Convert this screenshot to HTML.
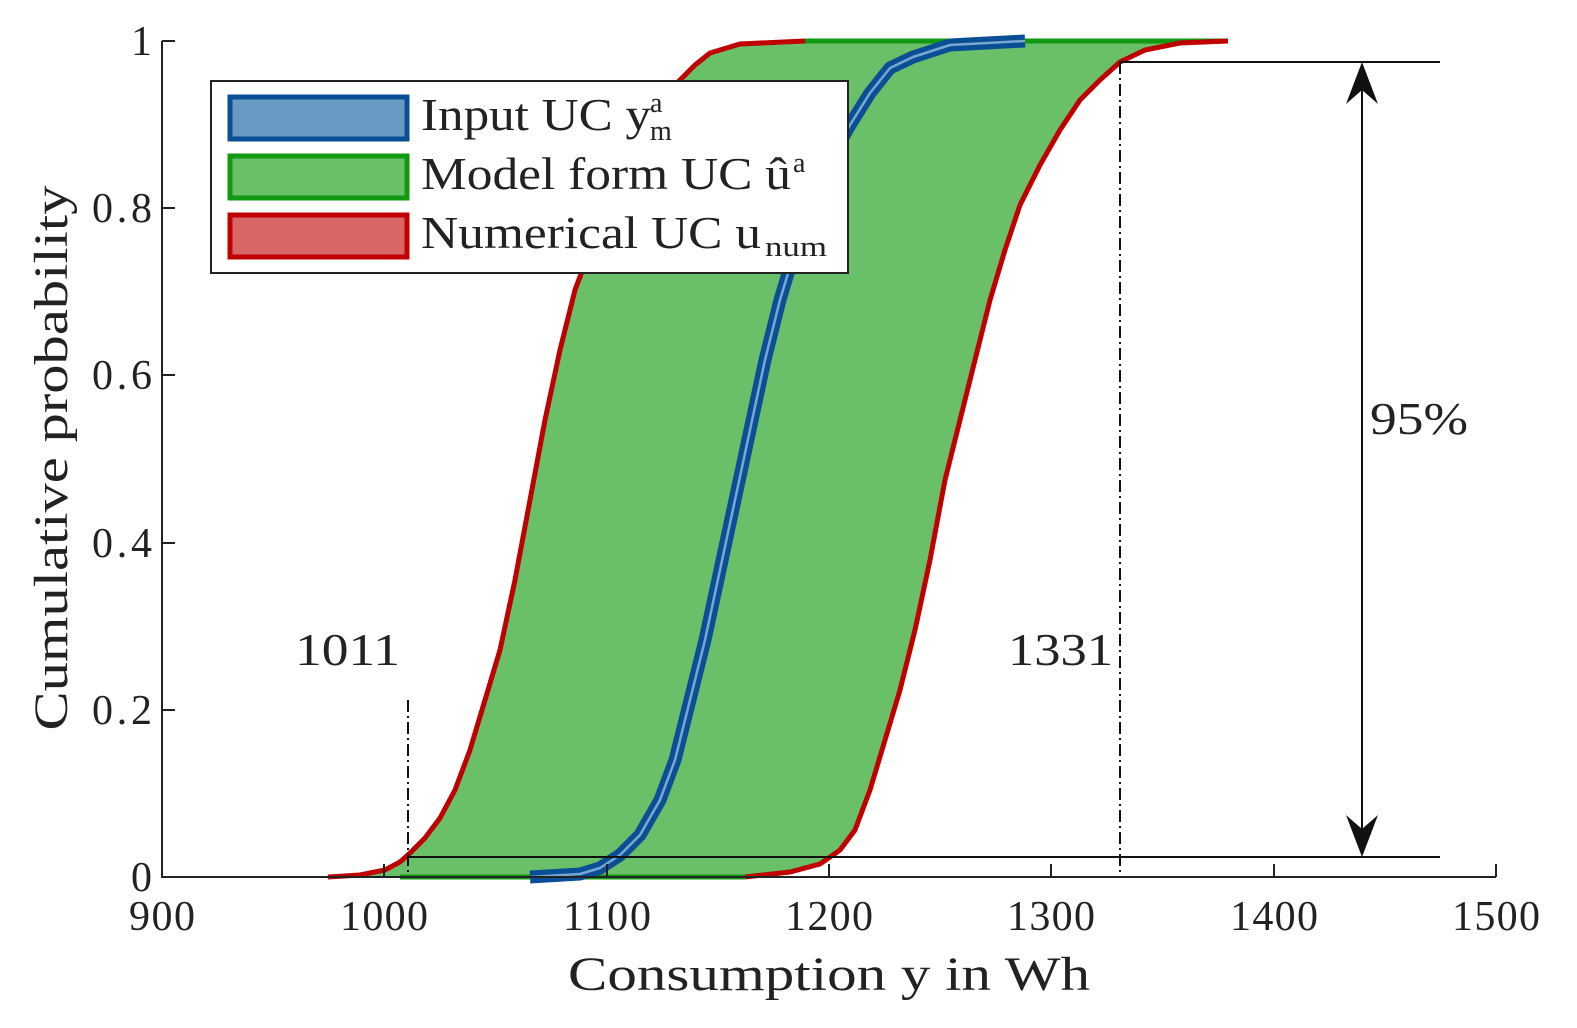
<!DOCTYPE html>
<html><head><style>
html,body{margin:0;padding:0;background:#fff}
svg{display:block}
text{font-family:"Liberation Serif",serif;fill:#222}
</style></head><body>
<svg width="1577" height="1028" viewBox="0 0 1577 1028" xmlns="http://www.w3.org/2000/svg">
<path d="M328,877 L360,875 L385,870 L400,862 L410,853 L425,838 L440,818 L455,790 L470,750 L485,700 L500,650 L515,580 L530,500 L545,420 L560,350 L575,290 L590,250 L605,205 L625,160 L645,120 L665,95 L680,80 L695,65 L710,53 L740,44 L805,41 L1228,41 L1180,43 L1145,50 L1120,62 L1100,80 L1080,100 L1060,130 L1040,165 L1020,205 L1005,250 L990,300 L975,360 L960,420 L945,480 L930,560 L915,630 L900,690 L885,740 L870,790 L855,830 L840,850 L820,864 L790,872 L745,877 Z" fill="#6abf69"/>
<line x1="805" y1="41" x2="1228" y2="41" stroke="#119911" stroke-width="5"/>
<line x1="400" y1="877" x2="745" y2="877" stroke="#119911" stroke-width="5"/>
<path d="M530,877 L580,874 L600,868 L620,855 L640,835 L660,800 L675,760 L690,700 L705,640 L720,570 L735,500 L750,430 L765,360 L780,300 L795,250 L810,200 L830,160 L850,125 L870,93 L890,68 L913,57 L950,45 L1025,41" fill="none" stroke="#0a4f96" stroke-width="13" stroke-linejoin="round"/>
<path d="M530,877 L580,874 L600,868 L620,855 L640,835 L660,800 L675,760 L690,700 L705,640 L720,570 L735,500 L750,430 L765,360 L780,300 L795,250 L810,200 L830,160 L850,125 L870,93 L890,68 L913,57 L950,45 L1025,41" fill="none" stroke="#7aa7d2" stroke-width="2.5" stroke-linejoin="round"/>
<path d="M328,877 L360,875 L385,870 L400,862 L410,853 L425,838 L440,818 L455,790 L470,750 L485,700 L500,650 L515,580 L530,500 L545,420 L560,350 L575,290 L590,250 L605,205 L625,160 L645,120 L665,95 L680,80 L695,65 L710,53 L740,44 L805,41" fill="none" stroke="#c00000" stroke-width="5"/>
<path d="M745,877 L790,872 L820,864 L840,850 L855,830 L870,790 L885,740 L900,690 L915,630 L930,560 L945,480 L960,420 L975,360 L990,300 L1005,250 L1020,205 L1040,165 L1060,130 L1080,100 L1100,80 L1120,62 L1145,50 L1180,43 L1228,41" fill="none" stroke="#c00000" stroke-width="5"/>
<line x1="1120" y1="62" x2="1440" y2="62" stroke="#111" stroke-width="2"/>
<line x1="408" y1="857" x2="1440" y2="857" stroke="#111" stroke-width="2"/>
<line x1="408" y1="700" x2="408" y2="877" stroke="#111" stroke-width="2" stroke-dasharray="12,4,2,4"/>
<line x1="1120" y1="62" x2="1120" y2="877" stroke="#111" stroke-width="2" stroke-dasharray="12,4,2,4"/>
<line x1="1362" y1="66" x2="1362" y2="853" stroke="#111" stroke-width="2"/>
<path d="M1362,62 L1346,104 L1362,90 L1378,104 Z" fill="#111"/>
<path d="M1362,857 L1346,815 L1362,829 L1378,815 Z" fill="#111"/>
<text x="295" y="665" font-size="46" textLength="105" lengthAdjust="spacingAndGlyphs">1011</text>
<text x="1008" y="665" font-size="46" textLength="105" lengthAdjust="spacingAndGlyphs">1331</text>
<text x="1370" y="434" font-size="46" textLength="98" lengthAdjust="spacingAndGlyphs">95%</text>
<line x1="162" y1="41" x2="162" y2="878" stroke="#222" stroke-width="2"/>
<line x1="161" y1="877" x2="1496" y2="877" stroke="#222" stroke-width="2"/>
<g stroke="#222" stroke-width="2">
<line x1="384" y1="877" x2="384" y2="864"/><line x1="607" y1="877" x2="607" y2="864"/><line x1="829" y1="877" x2="829" y2="864"/><line x1="1051" y1="877" x2="1051" y2="864"/><line x1="1274" y1="877" x2="1274" y2="864"/><line x1="1496" y1="877" x2="1496" y2="864"/>
<line x1="162" y1="710" x2="175" y2="710"/><line x1="162" y1="543" x2="175" y2="543"/><line x1="162" y1="375" x2="175" y2="375"/><line x1="162" y1="208" x2="175" y2="208"/><line x1="162" y1="41" x2="175" y2="41"/>
</g>
<g font-size="42" text-anchor="middle" lengthAdjust="spacingAndGlyphs">
<text x="162" y="930" textLength="66">900</text><text x="384" y="930" textLength="88">1000</text><text x="607" y="930" textLength="88">1100</text><text x="829" y="930" textLength="88">1200</text><text x="1051" y="930" textLength="88">1300</text><text x="1274" y="930" textLength="88">1400</text><text x="1496" y="930" textLength="88">1500</text>
</g>
<g font-size="42" text-anchor="end">
<text x="152" y="891">0</text><text x="152" y="724" textLength="60">0.2</text><text x="152" y="557" textLength="60">0.4</text><text x="152" y="389" textLength="60">0.6</text><text x="152" y="222" textLength="60">0.8</text><text x="152" y="55">1</text>
</g>
<text x="829" y="990" font-size="48" text-anchor="middle" textLength="522" lengthAdjust="spacingAndGlyphs">Consumption y in Wh</text>
<text transform="translate(67,458) rotate(-90)" font-size="48" text-anchor="middle" textLength="545" lengthAdjust="spacingAndGlyphs">Cumulative probability</text>
<rect x="211" y="81" width="637" height="192" fill="#fff" stroke="#222" stroke-width="2"/>
<rect x="230" y="97" width="177" height="42" fill="#6899c2" stroke="#0a4f96" stroke-width="5"/>
<rect x="230" y="156" width="177" height="42" fill="#6abf69" stroke="#119911" stroke-width="5"/>
<rect x="230" y="215" width="177" height="42" fill="#d96666" stroke="#c00000" stroke-width="5"/>
<text x="421" y="130" font-size="46" textLength="230" lengthAdjust="spacingAndGlyphs">Input UC y</text>
<text x="650" y="112" font-size="28">a</text><text x="650" y="140" font-size="28">m</text>
<text x="421" y="189" font-size="46" textLength="370" lengthAdjust="spacingAndGlyphs">Model form UC û</text>
<text x="793" y="172" font-size="28">a</text>
<text x="421" y="248" font-size="46" textLength="340" lengthAdjust="spacingAndGlyphs">Numerical UC u</text>
<text x="765" y="256" font-size="28" textLength="62" lengthAdjust="spacingAndGlyphs">num</text>
</svg>
</body></html>
